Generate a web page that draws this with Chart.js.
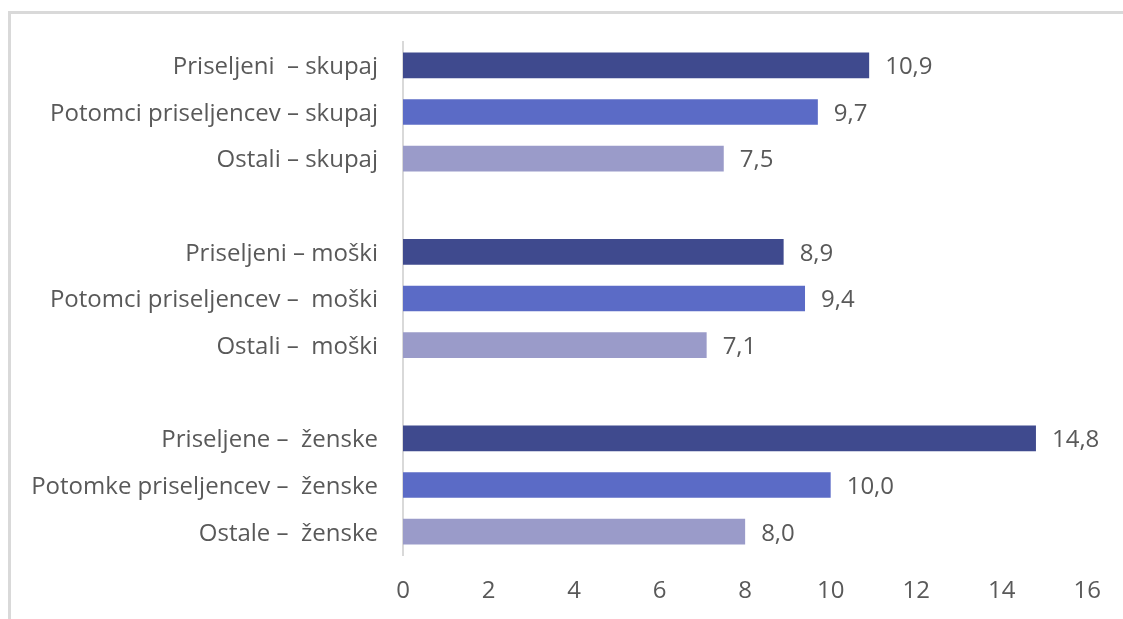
<!DOCTYPE html>
<html><head><meta charset="utf-8">
<script src="https://cdn.jsdelivr.net/npm/chart.js@4"></script>
<style>
html,body{margin:0;padding:0;background:#fff;overflow:hidden}
#wrap{position:relative;width:1123px;height:619px}
#frame{position:absolute;left:8px;top:11px;width:1200px;height:700px;border-top:3px solid #d9d9d9;border-left:3px solid #d9d9d9;box-sizing:border-box}
canvas{position:absolute;left:0;top:0}
</style></head>
<body><div id="wrap"><div id="frame"></div><canvas id="c" width="1123" height="619"></canvas></div>
<script>
const categories = [
  "Priseljeni  – skupaj", "Potomci priseljencev – skupaj", "Ostali – skupaj", "",
  "Priseljeni – moški", "Potomci priseljencev –  moški", "Ostali –  moški", "",
  "Priseljene –  ženske", "Potomke priseljencev –  ženske", "Ostale –  ženske"
];
const values = [10.9, 9.7, 7.5, null, 8.9, 9.4, 7.1, null, 14.8, 10.0, 8.0];
const barColors = ["#3f4a8e","#5b6bc6","#9a9bc9",null,"#3f4a8e","#5b6bc6","#9a9bc9",null,"#3f4a8e","#5b6bc6","#9a9bc9"];
const xTicks = [0, 2, 4, 6, 8, 10, 12, 14, 16];

const FONT = "'Open Sans', sans-serif";
const FSIZE = 24;
const TXT = "#595959";

const valueLabels = {
  id: "valueLabels",
  afterDatasetsDraw(chart) {
    const ctx = chart.ctx;
    const meta = chart.getDatasetMeta(0);
    ctx.save();
    ctx.font = FSIZE + "px " + FONT;
    ctx.fillStyle = TXT;
    ctx.textAlign = "left";
    ctx.textBaseline = "middle";
    meta.data.forEach((el, i) => {
      const v = values[i];
      if (v === null) return;
      ctx.fillText(v.toFixed(1).replace(".", ","), el.x + 16, el.y + 2);
    });
    ctx.restore();
  }
};

new Chart(document.getElementById("c"), {
  type: "bar",
  data: {
    labels: categories,
    datasets: [{ data: values, backgroundColor: barColors, barPercentage: 0.55, categoryPercentage: 1.0 }]
  },
  options: {
    indexAxis: "y",
    responsive: false,
    animation: false,
    devicePixelRatio: 1,
    layout: { padding: { top: 42, right: 29, left: 0, bottom: 0 } },
    plugins: { legend: { display: false }, tooltip: { enabled: false } },
    scales: {
      x: {
        min: 0, max: 16,
        afterBuildTicks(s) { s.ticks = xTicks.map(v => ({ value: v })); },
        afterFit(s) { s.height = 64; },
        grid: { display: false, drawTicks: false },
        border: { display: false },
        ticks: { color: TXT, font: { family: FONT, size: FSIZE }, padding: 22 }
      },
      y: {
        afterFit(s) { s.width = 403; },
        grid: { display: false, drawTicks: false },
        border: { display: true, color: "#d9d9d9", width: 2 },
        ticks: { color: TXT, font: { family: FONT, size: FSIZE }, padding: 25, labelOffset: 2, autoSkip: false }
      }
    }
  },
  plugins: [valueLabels]
});
</script></body></html>
